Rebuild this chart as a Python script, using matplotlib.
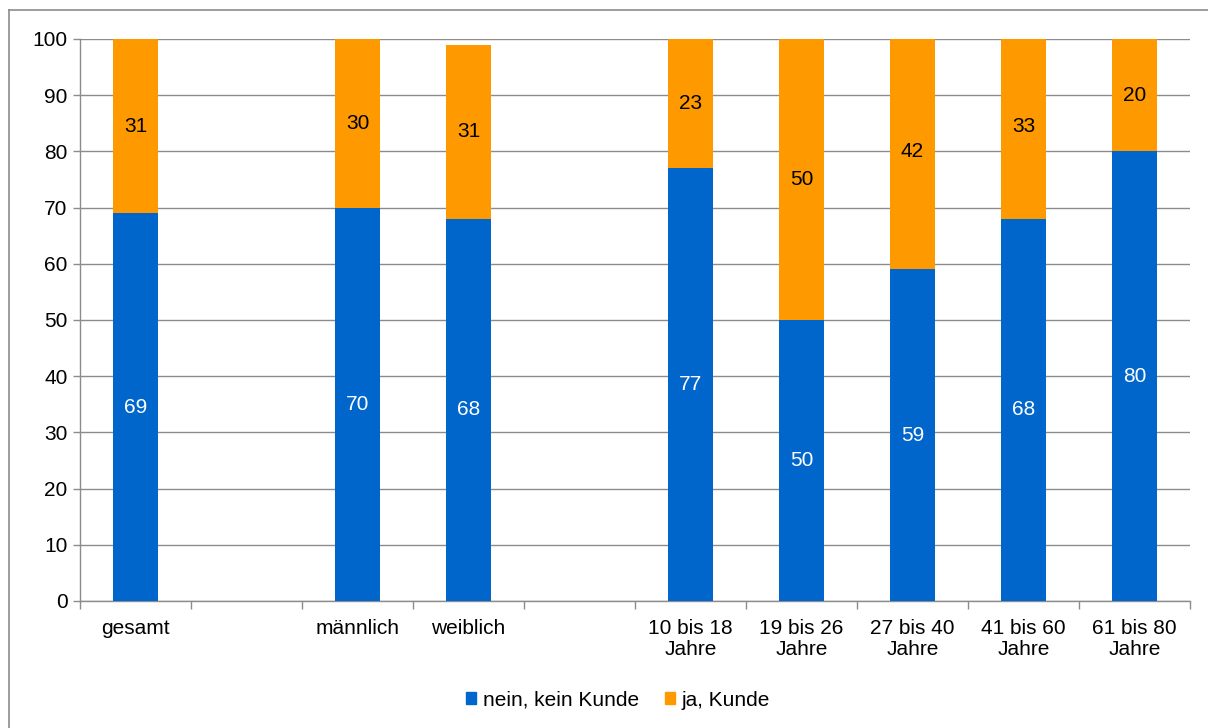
import matplotlib
matplotlib.use("Agg")
import matplotlib.pyplot as plt
from matplotlib.lines import Line2D
from matplotlib.patches import Patch

plt.rcParams['font.family'] = ['Liberation Sans', 'DejaVu Sans']

categories = ["gesamt", "", "männlich", "weiblich", "", "10 bis 18\nJahre", "19 bis 26\nJahre",
              "27 bis 40\nJahre", "41 bis 60\nJahre", "61 bis 80\nJahre"]
nein = [69, None, 70, 68, None, 77, 50, 59, 68, 80]
ja = [31, None, 30, 31, None, 23, 50, 42, 33, 20]
series_names = ["nein, kein Kunde", "ja, Kunde"]
yticks = list(range(0, 101, 10))

blue = "#0066CC"
orange = "#FF9900"
grid = "#8C8C8C"
fs = 15

fig = plt.figure(figsize=(12.08, 7.28), dpi=100)
ax = fig.add_axes([80/1208, 1-601/728, 1110/1208, 562/728])

x = list(range(len(categories)))
for i, (n, j) in enumerate(zip(nein, ja)):
    if n is None:
        continue
    ax.bar(i, n, width=0.4, color=blue, zorder=3)
    ax.bar(i, j, width=0.4, bottom=n, color=orange, zorder=3)
    ax.text(i, n/2, str(n), ha="center", va="center", color="white", fontsize=fs, zorder=4)
    ax.text(i, n + j/2, str(j), ha="center", va="center", color="black", fontsize=fs, zorder=4)

ax.set_xlim(-0.5, len(categories)-0.5)
ax.set_ylim(0, 100)
ax.set_yticks(yticks)
ax.set_yticklabels([str(t) for t in yticks], fontsize=fs)
ax.yaxis.grid(True, color=grid, linewidth=1.0, zorder=0)
ax.tick_params(axis="y", length=5, color=grid, width=1.0, pad=4)

ax.set_xticks(x)
ax.set_xticklabels(categories, fontsize=fs, linespacing=1.15)
ax.tick_params(axis="x", which="major", length=0, pad=13)
ax.set_xticks([k - 0.5 for k in range(len(categories)+1)], minor=True)
ax.tick_params(axis="x", which="minor", length=6, color=grid, width=1.0)

for s in ["top", "right"]:
    ax.spines[s].set_visible(False)
for s in ["left", "bottom"]:
    ax.spines[s].set_color(grid)
    ax.spines[s].set_linewidth(1.0)

handles = [Patch(color=blue), Patch(color=orange)]
fig.legend(handles, series_names, loc="center", bbox_to_anchor=(618/1208, 1-700/728),
           ncol=2, frameon=False, fontsize=fs, handlelength=0.5, handleheight=0.5,
           handletextpad=0.3, columnspacing=1.25)

fig.add_artist(Line2D([9/1208, 9/1208], [0, 1-10/728], color=grid, linewidth=1.2, transform=fig.transFigure))
fig.add_artist(Line2D([9/1208, 1], [1-10/728, 1-10/728], color=grid, linewidth=1.2, transform=fig.transFigure))

fig.savefig("out.png", dpi=100)
